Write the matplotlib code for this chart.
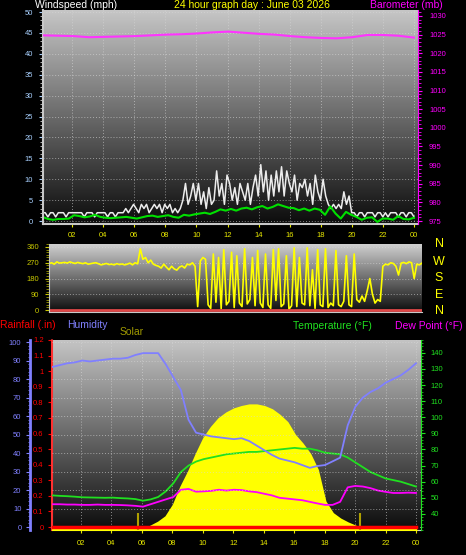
import numpy as np
import matplotlib.pyplot as plt
from matplotlib.colors import LinearSegmentedColormap
from matplotlib.ticker import MultipleLocator

plt.rcParams['font.family'] = ['Liberation Sans', 'DejaVu Sans']

# ---- data ----
hour_labels = ['02', '04', '06', '08', '10', '12', '14', '16', '18', '20', '22', '00']

# wind gust (mph), 10 minute samples
wind_gust = [
    2, 2, 1, 2, 2, 1,
    2, 2, 2, 1, 2, 2,
    2, 2, 2, 2, 1, 2,
    2, 2, 1, 2, 2, 2,
    2, 1, 2, 2, 1, 2,
    2, 2, 3, 2, 3, 4,
    3, 2, 4, 3, 4, 2,
    3, 4, 3, 4, 2, 4,
    3, 4, 2, 3, 2, 3,
    5, 9, 4, 6, 9, 5,
    9, 4, 7, 3, 8, 4,
    5, 12, 6, 9, 4, 11,
    9, 5, 8, 4, 9, 7,
    5, 9, 4, 8, 11, 6,
    13.5, 7, 12, 5, 11, 6,
    12, 7, 13, 6, 12, 9,
    7, 11, 5, 9, 8, 10,
    6, 9, 4, 11, 7, 5,
    10, 6, 4, 3, 4, 3,
    4, 3, 7, 4, 6, 2,
    2, 1, 2, 2, 1, 2,
    2, 2, 1, 2, 2, 1,
    2, 1, 2, 2, 2, 1,
    2, 2, 1, 2, 2, 1,
]

# average wind (mph), 20 minute samples
wind_avg = [
    1.0, 0.5, 0.3,
    0.5, 0.5, 0.6,
    1.4, 1.2, 0.9,
    1.1, 1.5, 1.0,
    0.8, 0.7, 0.8,
    0.9, 1.0, 0.8,
    0.6, 0.9, 1.2,
    1.3, 1.0, 1.2,
    1.4, 1.0, 0.8,
    1.5, 1.3, 1.6,
    1.8, 2.0, 1.7,
    2.2, 2.8, 2.5,
    2.9, 2.5, 3.0,
    3.2, 2.8, 3.3,
    3.6, 3.0, 3.4,
    4.0, 3.6, 3.2,
    3.1, 2.6, 3.0,
    2.5, 3.0, 2.7,
    1.5, 3.5, 1.8,
    0.6, 2.2, 1.5,
    1.0, 0.3, 0.8,
    0.9, -0.2, 0.6,
    0.6, 0.3, 1.2,
    0.5, 0.4, 0.8,
]

# barometer (mb), hourly
baro = [1024.8, 1024.7, 1024.6, 1024.3, 1024.4, 1024.5, 1024.6, 1024.8, 1025.0,
        1025.1, 1025.3, 1025.6, 1025.8, 1025.5, 1025.2, 1025.0, 1024.6, 1024.3,
        1024.1, 1024.0, 1024.3, 1024.9, 1024.9, 1024.7, 1024.2]

# wind direction (deg), 10 minute samples
wind_dir = [
    265, 270, 262, 275, 268, 270,
    272, 268, 275, 270, 266, 272,
    268, 265, 270, 262, 265, 268,
    270, 264, 258, 262, 266, 260,
    262, 258, 265, 260, 263, 258,
    262, 268, 258, 270, 264, 350,
    290, 300, 270, 285, 262, 255,
    250, 240, 262, 245, 230, 250,
    235, 228, 245, 252, 240, 262,
    258, 270, 250, 20, 280, 300,
    290, 30, 10, 320, 45, 300,
    8, 345, 30, 50, 330, 15,
    310, 40, 20, 350, 35, 60,
    300, 25, 340, 40, 15, 320,
    30, 10, 345, 55, 350, 20,
    35, 310, 5, 25, 355, 20,
    300, 40, 30, 355, 25, 230,
    10, 345, 30, 20, 350, 15,
    40, 25, 340, 30, 20, 50,
    310, 30, 20, 320, 60, 45,
    80, 50, 110, 180, 90, 40,
    60, 50, 250, 262, 258, 270,
    266, 250, 200, 268, 272, 265,
    275, 270, 180, 262, 258, 268,
]

# 30 minute samples
humidity = [86.5, 87.5, 88.5, 89, 90, 89.5, 90, 90.5, 91, 91, 91.5, 93, 94, 94, 94,
            88, 81, 74, 58, 51, 50, 49, 48.5, 48, 47.5, 48, 46.5, 44, 41.5, 39, 37,
            36, 35, 33.5, 32, 33, 33.5, 35.5, 37.5, 55, 65, 70, 73, 75, 78, 80, 82,
            85, 88.5]
temperature = [51.5, 51.2, 51, 50.7, 50.3, 50.2, 50.1, 50, 50.1, 49.8, 49.6, 49.2,
               48.2, 49, 50.5, 54, 59, 66, 70, 72.5, 74, 75, 76, 77, 77.5, 78, 78.5,
               78.5, 79, 79.5, 80, 80.5, 81, 80.5, 80.5, 79.5, 78, 77.5, 77, 75, 72,
               69, 66, 64, 62, 61, 60, 58.5, 57]
dew_point = [46, 46, 45.8, 45.8, 45.6, 45.6, 45.8, 45.6, 45.6, 45.5, 45.3, 45, 44.5,
             46, 47.5, 49, 50.5, 55, 55.5, 53.8, 54, 54.3, 55, 54.5, 55, 54.8, 54,
             53.5, 52.5, 51.5, 50, 49.5, 49, 48.5, 47.5, 46.5, 45.6, 45.6, 47.5,
             56.5, 57.4, 57, 56, 54.5, 53.7, 53, 53, 53.2, 53]
solar = [0, 0, 0, 0, 0, 0, 0, 0, 0, 0, 0, 0, 0, 25, 50, 85, 160, 275, 370, 480, 580,
         650, 705, 740, 765, 780, 790, 790, 780, 760, 725, 680, 600, 545, 480, 380,
         180, 105, 70, 45, 25, 0, 0, 0, 0, 0, 0, 0, 0]

# rainfall (in), hourly
rain = [0] * 25

sunrise, sunset = 5.75, 20.35

t_gust = np.linspace(0.1, 24, len(wind_gust))
t_avg = np.linspace(0.1, 24, len(wind_avg))
t_baro = np.linspace(0.1, 24, len(baro))
t_dir = np.linspace(0.0, 24.3, len(wind_dir))
t_half = np.linspace(0.1, 24, len(humidity))
t_rain = np.linspace(0.1, 24, len(rain))

# ---- layout helpers (pixels) ----
W, H = 466, 555
TICK = 5.5


def rect(x0, y0, x1, y1):
    return [x0 / W, 1 - y1 / H, (x1 - x0) / W, (y1 - y0) / H]


def background(r, top, bottom):
    bg = fig.add_axes(r, zorder=-1)
    cmap = LinearSegmentedColormap.from_list('bg', [bottom, top])
    bg.imshow(np.linspace(0, 1, 256).reshape(-1, 1), cmap=cmap, aspect='auto',
              origin='lower', extent=[0, 1, 0, 1])
    bg.set_axis_off()


def hide(ax):
    for s in ax.spines.values():
        s.set_visible(False)


grid_kw = dict(color='#d8d8d8', linestyle=(0, (1, 2)), linewidth=0.7, alpha=0.6)

fig = plt.figure(figsize=(W / 100, H / 100), dpi=100, facecolor='black')

# ---- panel 1: wind speed / barometer ----
r1 = rect(43, 10, 418, 224)
background(r1, '#c6c6c6', '#0c0c0c')
ax1 = fig.add_axes(r1)
ax1.patch.set_visible(False)
ax1.plot(t_gust, wind_gust, color='#ececec', lw=1.1)
ax1.plot(t_avg, wind_avg, color='#00e000', lw=1.5)
ax1.set_xlim(0.12, 24.26)
ax1.set_ylim(-0.7, 50.5)
ax1.set_yticks(range(0, 51, 5))
ax1.yaxis.set_minor_locator(MultipleLocator(1))
ax1.set_xticks(range(2, 25, 2))
ax1.set_xticklabels(hour_labels)
ax1.grid(**grid_kw)
ax1.tick_params(axis='y', colors='#a8d0ff', labelsize=TICK, length=3, pad=4)
ax1.tick_params(axis='y', which='minor', colors='#d0d0d0', length=2)
ax1.tick_params(axis='x', colors='#e8e800', labelsize=TICK, length=2, pad=4)
for s in ['top', 'right']:
    ax1.spines[s].set_visible(False)
ax1.spines['left'].set_color('#c8c8c8')
ax1.spines['left'].set_linewidth(1.5)
ax1.spines['bottom'].set_color('#c8c8c8')
ax1.spines['bottom'].set_linewidth(1.5)

ax1b = ax1.twinx()
ax1b.plot(t_baro, baro, color='#ff33ff', lw=1.5)
ax1b.set_ylim(974.2, 1031.6)
ax1b.set_yticks(range(975, 1031, 5))
ax1b.yaxis.set_minor_locator(MultipleLocator(1))
ax1b.tick_params(axis='y', colors='#ff00ff', labelsize=TICK, length=3, pad=5)
ax1b.tick_params(axis='y', which='minor', colors='#ff00ff', length=2)
hide(ax1b)
ax1b.spines['right'].set_visible(True)
ax1b.spines['right'].set_color('#ff00ff')
ax1b.spines['right'].set_linestyle((0, (1, 1)))

# ---- panel 2: wind direction ----
r2 = rect(49, 244, 422, 312)
background(r2, '#d0d0d0', '#0c0c0c')
ax2 = fig.add_axes(r2)
ax2.patch.set_visible(False)
ax2.plot(t_dir, wind_dir, color='#ffff00', lw=1.2)
ax2.axhline(0, color='#e04848', lw=2)
ax2.set_xlim(0, 24.3)
ax2.set_ylim(-11, 377)
ax2.set_yticks(range(0, 361, 90))
ax2.yaxis.set_minor_locator(MultipleLocator(15))
ax2.set_xticks([])
ax2.grid(axis='y', **grid_kw)
ax2.tick_params(axis='y', colors='#c8c800', labelsize=TICK, length=3, pad=4)
ax2.tick_params(axis='y', which='minor', colors='#a0a000', length=2)
hide(ax2)
ax2.spines['left'].set_visible(True)
ax2.spines['left'].set_color('#c8c8c8')
ax2.spines['bottom'].set_visible(True)
ax2.spines['bottom'].set_color('#c8c8c8')
for letter, y in zip(['N', 'W', 'S', 'E', 'N'], [244, 262, 278, 295, 311]):
    fig.text(439 / W, 1 - y / H, letter, color='#ffff00', fontsize=9,
             ha='center', va='center')

# ---- panel 3: rain / humidity / solar / temperature ----
r3 = rect(52, 340, 421, 530)
background(r3, '#c4c4c4', '#0c0c0c')
ax3 = fig.add_axes(r3)
ax3.patch.set_visible(False)
ax3.set_xlim(0.1, 24.33)
ax3.set_ylim(-0.019, 1.2)
ax3.set_yticks(np.arange(0, 1.21, 0.1))
ax3.set_yticklabels(['%g' % round(v, 1) for v in np.arange(0, 1.21, 0.1)])
ax3.set_xticks(range(2, 25, 2))
ax3.set_xticklabels(hour_labels)
ax3.tick_params(axis='y', colors='#ff0000', labelsize=TICK, length=3, pad=3)
ax3.tick_params(axis='x', colors='#e8e800', labelsize=TICK, length=2, pad=5)
hide(ax3)
ax3.spines['left'].set_visible(True)
ax3.spines['left'].set_color('#ff3030')
ax3.spines['left'].set_linestyle((0, (1, 1)))
ax3.spines['left'].set_linewidth(1.5)
ax3.spines['bottom'].set_visible(True)
ax3.spines['bottom'].set_color('#c8c8c8')
ax3.xaxis.grid(True, **grid_kw)

ax_sol = ax3.twinx()
ax_sol.fill_between(t_half, solar, 0, color='#ffff00', lw=1.5)
ax_sol.vlines([sunrise, sunset], 0, 110, color='#b0a000', lw=1.5)
ax_sol.set_ylim(0, 1200)
ax_sol.set_yticks([])
hide(ax_sol)

ax_t = ax3.twinx()
ax_t.plot(t_half, temperature, color='#20e020', lw=1.3)
ax_t.plot(t_half, dew_point, color='#ff00ff', lw=1.3)
ax_t.set_ylim(30, 148)
ax_t.set_yticks(range(40, 141, 10))
ax_t.yaxis.set_minor_locator(MultipleLocator(2))
ax_t.tick_params(axis='y', colors='#20e020', labelsize=TICK, length=3, pad=4)
ax_t.tick_params(axis='y', which='minor', colors='#20c020', length=1.5)
hide(ax_t)
ax_t.spines['right'].set_visible(True)
ax_t.spines['right'].set_color('#20e020')
ax_t.spines['right'].set_linestyle((0, (1, 1)))

ax_h = ax3.twinx()
ax_h.plot(t_half, humidity, color='#8080ff', lw=1.3)
ax_h.set_ylim(-1.6, 101.1)
ax_h.set_yticks(range(0, 101, 10))
ax_h.yaxis.set_minor_locator(MultipleLocator(2))
ax_h.yaxis.set_ticks_position('left')
ax_h.yaxis.set_label_position('left')
ax_h.tick_params(axis='y', colors='#8080ff', labelsize=TICK, length=3, pad=3)
ax_h.tick_params(axis='y', which='minor', colors='#8080ff', length=1.5)
ax_h.yaxis.grid(True, **grid_kw)
hide(ax_h)
ax_h.spines['left'].set_visible(True)
ax_h.spines['left'].set_color('#8080ff')
ax_h.spines['left'].set_linewidth(2)
ax_h.spines['left'].set_position(('outward', 16))

ax_r = ax3.twinx()
ax_r.plot(t_rain, rain, color='#ff0000', lw=2.5)
ax_r.set_ylim(-0.019, 1.2)
ax_r.set_yticks([])
hide(ax_r)

# ---- header texts ----
lab = dict(fontsize=7.5, va='center')
fig.text(35 / W, 1 - 5 / H, 'Windspeed (mph)', color='white', ha='left', **lab)
fig.text(252 / W, 1 - 5 / H, '24 hour graph day : June 03 2026', color='#ffff00',
         ha='center', **lab)
fig.text(443 / W, 1 - 5 / H, 'Barometer (mb)', color='#ff00ff', ha='right', **lab)
fig.text(0, 1 - 325 / H, 'Rainfall (.in)', color='#ff0000', ha='left', **lab)
fig.text(67 / W, 1 - 325 / H, 'Humidity', color='#8080ff', ha='left', **lab)
fig.text(120 / W, 1 - 332 / H, 'Solar', color='#a09a00', ha='left', **lab)
fig.text(372 / W, 1 - 326 / H, 'Temperature (°F)', color='#20e020', ha='right', **lab)
fig.text(463 / W, 1 - 326 / H, 'Dew Point (°F)', color='#ff00ff', ha='right', **lab)

fig.savefig('out.png', dpi=100, facecolor='black')
